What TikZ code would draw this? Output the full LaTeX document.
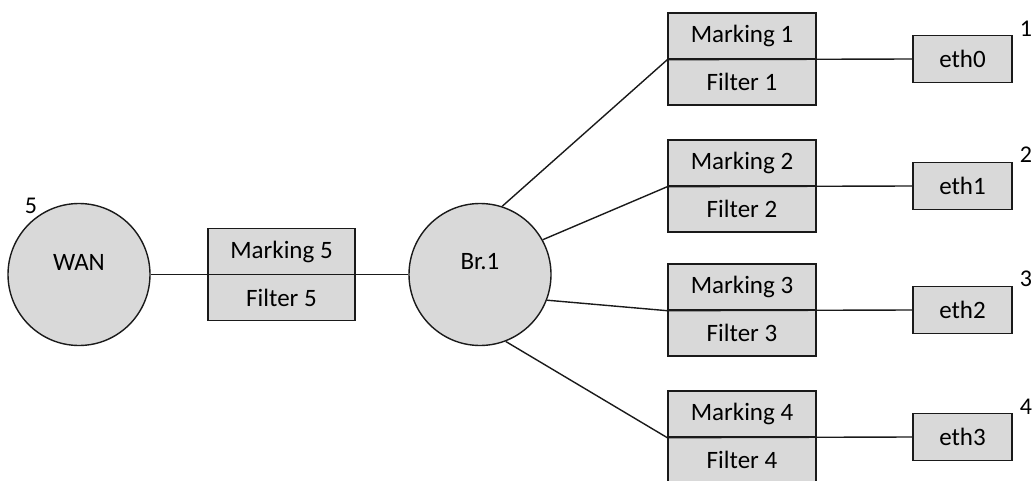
\documentclass[tikz,border=0pt]{standalone}
\usepackage{fontspec}
\setmainfont{Carlito}
\definecolor{boxfill}{HTML}{D9D9D9}
\definecolor{edge}{HTML}{1A1A1A}
\begin{document}
\begin{tikzpicture}[x=1pt,y=-1pt,
  every node/.style={font=\fontsize{25}{29}\selectfont, text=black},
  half/.style={draw=edge, line width=1.4pt, fill=boxfill, minimum width=148, minimum height=46, inner sep=0},
  ethbox/.style={draw=edge, line width=1.4pt, fill=boxfill, minimum width=99, minimum height=47, inner sep=0},
  ring/.style={circle, draw=edge, line width=1.4pt, fill=boxfill, minimum size=142, inner sep=0},
  txt/.style={inner sep=0},
  num/.style={inner sep=0, font=\fontsize{24}{28}\selectfont},
  link/.style={draw=edge, line width=1.4pt}
]
\useasboundingbox (0,0) rectangle (1032,481);
\clip (0,0) rectangle (1032,481);

% circles
\node[ring] (wan) at (79,274.5) {};
\node[txt] (wantext) at (79,262) {WAN};
\node[num] (n5) at (31,206) {5};
\node[ring] (br) at (480,274.5) {};
\node[txt] (brtext) at (480,262) {Br.1};

% marking / filter 5
\node[half, minimum width=147] (m5) at (281.5,251.5) {Marking 5};
\node[half, minimum width=147] (f5) at (281.5,297.5) {Filter 5};

% marking / filter 1-4 and eth
\node[half] (m1) at (742,36) {Marking 1};
\node[half] (f1) at (742,82) {Filter 1};
\node[ethbox] (e0) at (962.5,59) {eth0};
\node[num] (n1) at (1026,29) {1};

\node[half] (m2) at (742,163) {Marking 2};
\node[half] (f2) at (742,209) {Filter 2};
\node[ethbox] (e1) at (962.5,186) {eth1};
\node[num] (n2) at (1026,155) {2};

\node[half] (m3) at (742,287) {Marking 3};
\node[half] (f3) at (742,333) {Filter 3};
\node[ethbox] (e2) at (962.5,310) {eth2};
\node[num] (n3) at (1026,279) {3};

\node[half] (m4) at (742,414) {Marking 4};
\node[half] (f4) at (742,460) {Filter 4};
\node[ethbox] (e3) at (962.5,437) {eth3};
\node[num] (n4) at (1026,407) {4};

% connectors
\draw[link] (wan.east) -- (br.west);
\draw[link] (br.72) -- (m1.south west) -- (e0.west);
\draw[link] (br.29) -- (m2.south west) -- (e1.west);
\draw[link] (br.-21) -- (m3.south west) -- (e2.west);
\draw[link] (br.-69) -- (m4.south west) -- (e3.west);
\end{tikzpicture}
\end{document}
